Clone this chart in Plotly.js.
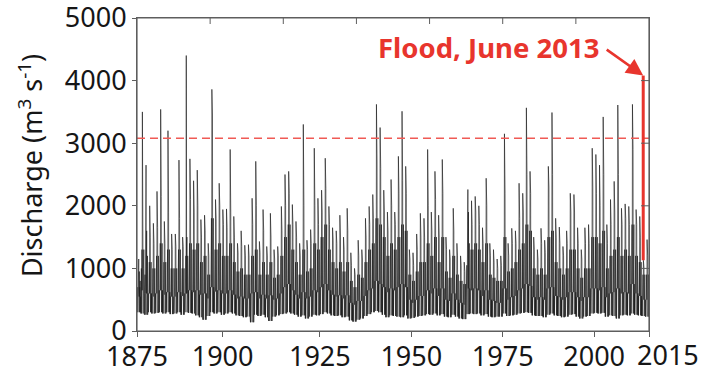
<!DOCTYPE html>
<html>
<head>
<meta charset="utf-8">
<script src="https://cdn.plot.ly/plotly-3.0.1.min.js"></script>
<style>html,body{margin:0;padding:0;background:#fff;}#chart{width:704px;height:372px;}</style>
</head>
<body>
<div id="chart"></div>
<script>
// Daily discharge record, summarised per hydrological year (m3/s)
const firstYear = 1875;
// annual maximum spike
const peakQ = [
 1150, 3500, 2650, 2000, 1720, 2230, 3540, 1750, 3200, 1550,
 1550, 2730, 1500, 4400, 2750, 2400, 2570, 1780, 1850, 1400,
 3860, 2100, 2360, 1940, 1950, 2900, 1830, 1400, 1600, 1370,
 1380, 2120, 2710, 1430, 1940, 1350, 1880, 1300, 1350, 1990,
 2500, 2550, 2020, 1750, 1400, 3300, 1450, 1620, 2920, 2120,
 2250, 2760, 1990, 1650, 1600, 1850, 1500, 1960, 1250, 1000,
 1450, 1300, 1800, 1990, 2180, 3620, 3250, 2250, 1900, 2420,
 1900, 2790, 3510, 2630, 1300, 1250, 1550, 1880, 1800, 2900,
 1900, 2550, 1850, 2740, 1500, 1300, 1960, 1400, 1200, 1100,
 2260, 2080, 2150, 2000, 1650, 2440, 1400, 1300, 1150, 1200,
 3150, 1400, 1640, 1600, 2360, 2200, 3565, 2550, 1500, 1300,
 1640, 1450, 2630, 3490, 1800, 1660, 1350, 1600, 2200, 2180,
 1650, 1300, 1650, 1700, 2920, 2820, 2650, 3420, 1700, 2100,
 2390, 3610, 1960, 2030, 1990, 3620, 1940, 1830, 1130, 1460
];
// second highest spike of the year
const secondQ = [
 950, 1750, 1600, 1500, 1400, 1650, 2150, 1400, 1900, 1300,
 1350, 1800, 1350, 1500, 2100, 1900, 2000, 1500, 1600, 1200,
 3450, 1800, 2000, 1700, 1650, 1900, 1500, 1250, 1350, 1200,
 1200, 1700, 2000, 1250, 1600, 1200, 1500, 1150, 1200, 1600,
 2000, 2200, 1700, 1500, 1200, 2000, 1300, 1400, 2000, 1700,
 1900, 2280, 1700, 1450, 1400, 1500, 1300, 1600, 1050, 900,
 1200, 1150, 1500, 1700, 1800, 2700, 2600, 1900, 1600, 2000,
 1700, 2200, 2400, 2200, 1150, 1050, 1300, 1500, 1500, 2000,
 1600, 2100, 1500, 2200, 1300, 1150, 1600, 1200, 1050, 950,
 1900, 1700, 1900, 1700, 1400, 2000, 1200, 1100, 1000, 1050,
 2200, 1200, 1400, 1400, 1800, 1900, 2500, 2200, 1300, 1150,
 1400, 1250, 2300, 2500, 1500, 1400, 1200, 1400, 1900, 1900,
 1400, 1150, 1400, 1400, 2300, 2200, 2000, 2500, 1400, 1700,
 1900, 2500, 1700, 1800, 1700, 2900, 1700, 1500, 1000, 1200
];
// third spike of the year
const thirdQ = [
 800, 1300, 1200, 1100, 1000, 1200, 1400, 1100, 1300, 1000,
 1000, 1300, 1000, 1200, 1400, 1300, 1400, 1100, 1200, 900,
 1800, 1300, 1400, 1200, 1200, 1400, 1100, 950, 1000, 900,
 900, 1200, 1300, 900, 1100, 900, 1100, 850, 900, 1200,
 1500, 1700, 1300, 1100, 900, 1300, 950, 1000, 1400, 1300,
 1500, 1700, 1300, 1100, 1000, 1100, 950, 1100, 800, 700,
 900, 850, 1100, 1300, 1400, 1800, 1700, 1500, 1200, 1400,
 1300, 1500, 1700, 1600, 900, 800, 950, 1100, 1100, 1400,
 1200, 1500, 1100, 1500, 950, 850, 1200, 900, 800, 750,
 1400, 1300, 1400, 1300, 1100, 1400, 900, 850, 800, 800,
 1500, 950, 1000, 1100, 1300, 1400, 1700, 1600, 1000, 900,
 1000, 900, 1500, 1600, 1100, 1000, 900, 1000, 1300, 1300,
 1000, 850, 1000, 1000, 1500, 1500, 1400, 1600, 1000, 1200,
 1300, 1500, 1200, 1300, 1200, 1700, 1200, 1100, 900, 900
];
// upper edge of the dense summer band
const bandQ = [
 700, 1000, 900, 850, 800, 900, 1000, 850, 950, 800,
 800, 950, 800, 900, 1000, 950, 1000, 850, 900, 750,
 1100, 950, 1000, 900, 900, 1000, 850, 750, 800, 750,
 750, 900, 950, 750, 850, 750, 850, 700, 750, 900,
 1100, 1200, 1000, 850, 750, 950, 750, 800, 1000, 950,
 1100, 1200, 1000, 850, 800, 850, 750, 850, 650, 600,
 700, 700, 850, 1000, 1050, 1300, 1200, 1100, 950, 1050,
 1000, 1100, 1200, 1100, 750, 650, 750, 850, 850, 1000,
 900, 1050, 850, 1050, 750, 700, 900, 750, 650, 600,
 1050, 1000, 1050, 1000, 850, 1000, 750, 700, 650, 650,
 1050, 750, 800, 850, 1000, 1050, 1200, 1150, 800, 750,
 800, 750, 1050, 1100, 850, 800, 750, 800, 950, 950,
 800, 700, 800, 800, 1050, 1050, 1000, 1100, 800, 900,
 950, 1050, 900, 950, 900, 1200, 900, 850, 750, 750
];
// typical mid-year level
const midQ = [
 550, 650, 600, 600, 550, 600, 650, 580, 620, 550,
 550, 620, 560, 600, 650, 620, 650, 580, 600, 520,
 700, 630, 650, 600, 600, 650, 580, 520, 550, 520,
 520, 600, 620, 520, 580, 520, 570, 500, 520, 600,
 700, 750, 650, 580, 520, 620, 520, 550, 650, 620,
 700, 750, 650, 580, 550, 570, 520, 570, 450, 420,
 480, 480, 560, 650, 680, 800, 750, 700, 620, 680,
 650, 700, 750, 700, 500, 450, 500, 560, 560, 650,
 600, 680, 560, 680, 500, 480, 600, 500, 450, 420,
 680, 650, 680, 650, 560, 650, 500, 480, 450, 450,
 680, 500, 540, 560, 650, 680, 750, 720, 540, 500,
 540, 500, 680, 700, 560, 540, 500, 540, 620, 620,
 540, 480, 540, 540, 680, 680, 650, 700, 540, 600,
 620, 680, 600, 620, 600, 750, 600, 560, 500, 500
];
// winter low flow
const lowQ = [
 300, 280, 260, 300, 280, 290, 300, 280, 300, 270,
 280, 300, 260, 300, 290, 280, 250, 220, 180, 240,
 300, 280, 300, 260, 280, 300, 280, 250, 240, 220,
 230, 140, 260, 240, 260, 220, 160, 230, 250, 270,
 280, 300, 280, 260, 230, 250, 200, 230, 260, 250,
 270, 300, 280, 250, 240, 250, 220, 230, 170, 150,
 180, 200, 240, 270, 300, 320, 300, 260, 220, 250,
 240, 230, 220, 250, 200, 210, 230, 240, 250, 270,
 260, 280, 250, 270, 230, 220, 260, 230, 200, 190,
 270, 280, 270, 280, 250, 270, 230, 220, 230, 230,
 280, 240, 250, 260, 280, 290, 300, 290, 250, 240,
 240, 220, 260, 280, 250, 240, 220, 230, 260, 270,
 230, 200, 230, 240, 280, 290, 280, 290, 230, 250,
 240, 200, 250, 260, 250, 280, 260, 250, 240, 230
];
// threshold and June 2013 flood
const thresholdQ = 3080;
const floodYear = 2013.42;
const floodQ = [1130, 4080];
const xTickVals = [1875, 1898.4, 1925, 1950, 1975, 2000, 2015];
const xTickText = ['1875', '1900', '1925', '1950', '1975', '2000', ''];
const lastTickLabel = '2015';
const yTickVals = [0, 1000, 2000, 3000, 4000, 5000];
const topTickVals = [1895, 1915, 1935, 1955, 1975, 1995];
const rightTickVals = [1000, 2000, 3000, 4000];
const yTitle = 'Discharge (m<sup>3</sup> s<sup>-1</sup>)';

// order in which each year's values are visited through the year
const seq = [lowQ, midQ, lowQ, bandQ, lowQ, midQ, thirdQ, midQ, peakQ, bandQ,
             midQ, secondQ, lowQ, bandQ, midQ, thirdQ, lowQ, midQ];
const xs = [], ys = [];
for (let i = 0; i < peakQ.length; i++) {
  for (let k = 0; k < seq.length; k++) {
    xs.push(firstYear + i + (k + 0.5) / seq.length);
    ys.push(seq[k][i]);
  }
}

const red = '#e8352d';
const axisCol = '#5e5e5e';
const fontFam = '"Noto Sans", "Open Sans", sans-serif';
const plotH = 372 - 18 - 41, plotW = 704 - 137 - 55;

const traces = [
  {x: xs, y: ys, type: 'scatter', mode: 'lines', line: {color: '#1a1a1a', width: 0.65}, hoverinfo: 'skip'},
  {x: [firstYear, 2015], y: [thresholdQ, thresholdQ], type: 'scatter', mode: 'lines',
   line: {color: '#f05a55', width: 1.6, dash: '8px,5px'}, hoverinfo: 'skip'},
  {x: [floodYear, floodYear], y: floodQ, type: 'scatter', mode: 'lines', line: {color: red, width: 3}, hoverinfo: 'skip'}
];

const shapes = [
  {type: 'rect', xref: 'paper', yref: 'paper', x0: 0, x1: 1, y0: 0, y1: 1, layer: 'above',
   line: {color: axisCol, width: 1.2}, fillcolor: 'rgba(0,0,0,0)'}
];
topTickVals.forEach(v => shapes.push({type: 'line', xref: 'x', yref: 'paper', x0: v, x1: v, y0: 1, y1: 1 - 6 / plotH,
  line: {color: axisCol, width: 1}}));
rightTickVals.forEach(v => shapes.push({type: 'line', xref: 'paper', yref: 'y', x0: 1, x1: 1 - 8 / plotW, y0: v, y1: v,
  line: {color: axisCol, width: 1}}));

const layout = {
  width: 704, height: 372,
  margin: {l: 137, r: 55, t: 18, b: 41, pad: 0},
  paper_bgcolor: '#fff', plot_bgcolor: '#fff',
  showlegend: false,
  font: {family: fontFam, size: 27, color: '#161616'},
  xaxis: {range: [1875, 2015], tickvals: xTickVals, ticktext: xTickText, tickangle: 0, ticks: 'outside', ticklen: 5,
          tickcolor: axisCol, showline: true, mirror: true, linecolor: axisCol, linewidth: 1, showgrid: false, zeroline: false,
          tickfont: {size: 27}, ticklabeloverflow: 'allow', ticklabelstandoff: -3},
  yaxis: {range: [0, 5000], tickvals: yTickVals, ticks: 'outside', ticklen: 4, tickcolor: axisCol,
          showline: true, mirror: true, linecolor: axisCol, linewidth: 1, showgrid: false, zeroline: false,
          tickfont: {size: 27}, ticklabeloverflow: 'allow'},
  shapes: shapes,
  annotations: [
    {x: -0.209, y: 0.53, xref: 'paper', yref: 'paper', text: yTitle, textangle: -90, showarrow: false,
     xanchor: 'center', yanchor: 'middle', font: {family: fontFam, size: 27, color: '#161616'}},
    {x: 1971, y: 4530, xref: 'x', yref: 'y', text: '<b>Flood, June 2013</b>', showarrow: false,
     xanchor: 'center', yanchor: 'middle', font: {family: fontFam, size: 27.5, color: red}},
    {x: floodYear, y: floodQ[1], xref: 'x', yref: 'y', text: '', showarrow: true, ax: -38, ay: -27,
     arrowhead: 2, arrowsize: 1.3, arrowwidth: 2.6, arrowcolor: red, standoff: 0},
    {x: 1.037, y: 0, xref: 'paper', yref: 'paper', text: lastTickLabel, showarrow: false,
     xanchor: 'center', yanchor: 'top', yshift: -3, font: {family: fontFam, size: 27, color: '#161616'}}
  ]
};

Plotly.newPlot('chart', traces, layout, {displayModeBar: false, staticPlot: true});
</script>
</body>
</html>
